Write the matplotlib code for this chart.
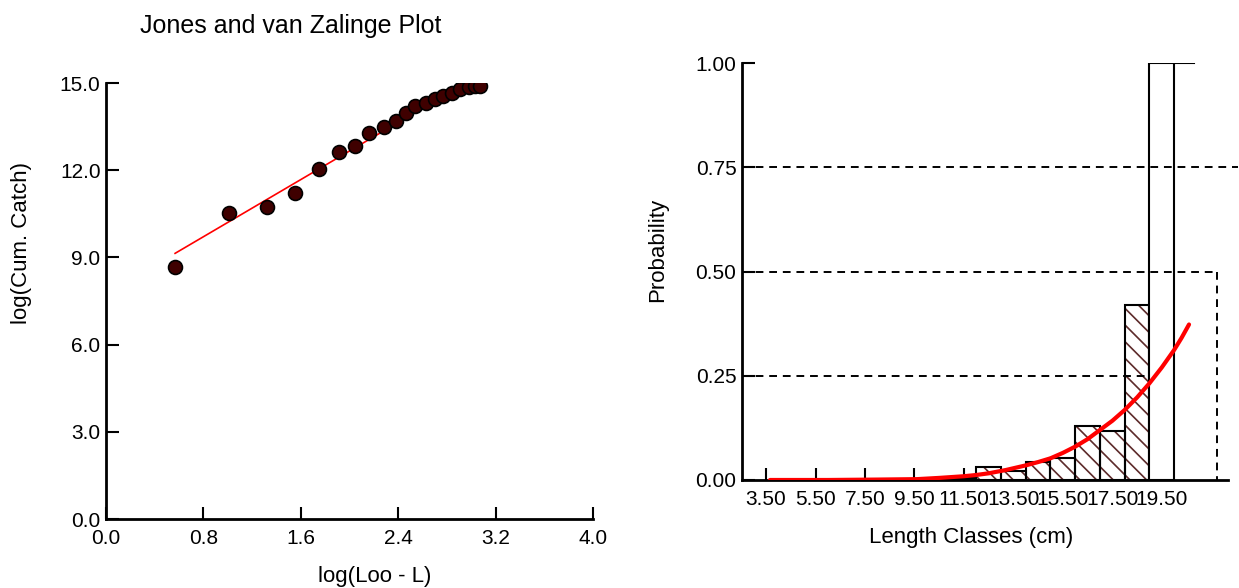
import matplotlib
matplotlib.use('Agg')

import matplotlib.pyplot as plt

plt.rcParams['font.family'] = ['Liberation Sans', 'DejaVu Sans']
plt.rcParams['hatch.linewidth'] = 1.2

# Jones and van Zalinge data
log_loo_l = [0.567, 1.01, 1.325, 1.55, 1.75, 1.91, 2.045, 2.16, 2.28, 2.38,
             2.46, 2.54, 2.63, 2.70, 2.77, 2.84, 2.91, 2.98, 3.03, 3.07]
log_cum_catch = [8.68, 10.52, 10.74, 11.20, 12.04, 12.64, 12.84, 13.29, 13.50, 13.70,
                 13.96, 14.22, 14.32, 14.44, 14.55, 14.67, 14.78, 14.86, 14.89, 14.89]
fit_x = [0.567, 3.004]
fit_y = [9.14, 15.13]

# Probability of capture data
bin_left = [10, 11, 12, 13, 14, 15, 16, 17, 18]
bin_prob = [0.002, 0.004, 0.032, 0.022, 0.043, 0.052, 0.130, 0.118, 0.42]
full_bin_left = [19]
full_bin_prob = [1.0]
cap_x = [20, 20.8]
curve_len = [3.66, 6.0, 8.0, 9.6, 10.5, 11.5, 12.0, 12.5, 13.2, 14.0, 14.5, 15.0,
             15.5, 16.0, 16.5, 17.0, 17.5, 18.0, 18.5, 19.0, 19.5, 20.0, 20.3, 20.6]
curve_prob = [0.0, 0.0, 0.001, 0.002, 0.005, 0.009, 0.012, 0.016, 0.024, 0.035, 0.043, 0.052,
              0.065, 0.080, 0.098, 0.120, 0.142, 0.168, 0.198, 0.232, 0.270, 0.312, 0.341, 0.373]
l25, l50 = 19.0, 21.73
len_ticks = [3.5, 5.5, 7.5, 9.5, 11.5, 13.5, 15.5, 17.5, 19.5]
prob_ticks = [0.0, 0.25, 0.5, 0.75, 1.0]

fig = plt.figure(figsize=(12.39, 5.88), dpi=100)

# ---- left panel
ax1 = fig.add_axes([0.0856, 0.1173, 0.393, 0.7415])
ax1.plot(fit_x, fit_y, color='red', lw=1.2, zorder=2)
ax1.plot(log_loo_l, log_cum_catch, 'o', ms=10, mfc='#3f0000', mec='black',
         mew=1.2, zorder=3)
ax1.set_xlim(0, 4)
ax1.set_ylim(0, 15)
ax1.set_xticks([0.0, 0.8, 1.6, 2.4, 3.2, 4.0])
ax1.set_yticks([0, 3, 6, 9, 12, 15])
ax1.xaxis.set_major_formatter(matplotlib.ticker.FormatStrFormatter('%.1f'))
ax1.yaxis.set_major_formatter(matplotlib.ticker.FormatStrFormatter('%.1f'))
ax1.set_title('Jones and van Zalinge Plot', fontsize=18, x=0.38, y=1.095)
ax1.set_xlabel('log(Loo - L)', fontsize=16)
ax1.set_ylabel('log(Cum. Catch)', fontsize=16)
ax1.xaxis.set_label_coords(0.552, -0.108)
ax1.yaxis.set_label_coords(-0.152, 0.633)

# ---- right panel
ax2 = fig.add_axes([0.5989, 0.1837, 0.3923, 0.709])
ax2.bar(bin_left, bin_prob, width=1, align='edge', color='white',
        edgecolor='#5c2a2a', hatch='\\\\', lw=0, zorder=2)
ax2.bar(bin_left, bin_prob, width=1, align='edge', fill=False,
        edgecolor='black', lw=1.5, zorder=3)
ax2.bar(full_bin_left, full_bin_prob, width=1, align='edge', color='white',
        edgecolor='black', lw=1.5, zorder=3)
ax2.plot(cap_x, [full_bin_prob[0]] * 2, color='black', lw=1.5, zorder=3)

dash = dict(color='black', lw=1.4, ls=(0, (4, 3)), zorder=4, clip_on=False)
ax2.plot([2.53, l25], [0.25, 0.25], **dash)
ax2.plot([l25, l25], [0.25, 0], **dash)
ax2.plot([2.53, l50], [0.5, 0.5], **dash)
ax2.plot([l50, l50], [0.5, 0], **dash)
ax2.plot([2.53, 22.6], [0.75, 0.75], **dash)

ax2.plot(curve_len, curve_prob, color='red', lw=3, zorder=5,
         solid_capstyle='round', solid_joinstyle='round')

ax2.set_xlim(2.53, 22.18)
ax2.set_ylim(0, 1.0)
ax2.set_xticks(len_ticks)
ax2.set_yticks(prob_ticks)
ax2.xaxis.set_major_formatter(matplotlib.ticker.FormatStrFormatter('%.2f'))
ax2.yaxis.set_major_formatter(matplotlib.ticker.FormatStrFormatter('%.2f'))
ax2.set_xlabel('Length Classes (cm)', fontsize=16)
ax2.set_ylabel('Probability', fontsize=16)
ax2.xaxis.set_label_coords(0.471, -0.113)
ax2.yaxis.set_label_coords(-0.152, 0.552)

for ax in (ax1, ax2):
    for s in ('top', 'right'):
        ax.spines[s].set_visible(False)
    for s in ('left', 'bottom'):
        ax.spines[s].set_linewidth(2)
    ax.tick_params(direction='in', length=9, width=1.5, labelsize=15,
                   pad=4)
    ax.tick_params(axis='x', pad=7)

plt.savefig('out.png', dpi=100)
